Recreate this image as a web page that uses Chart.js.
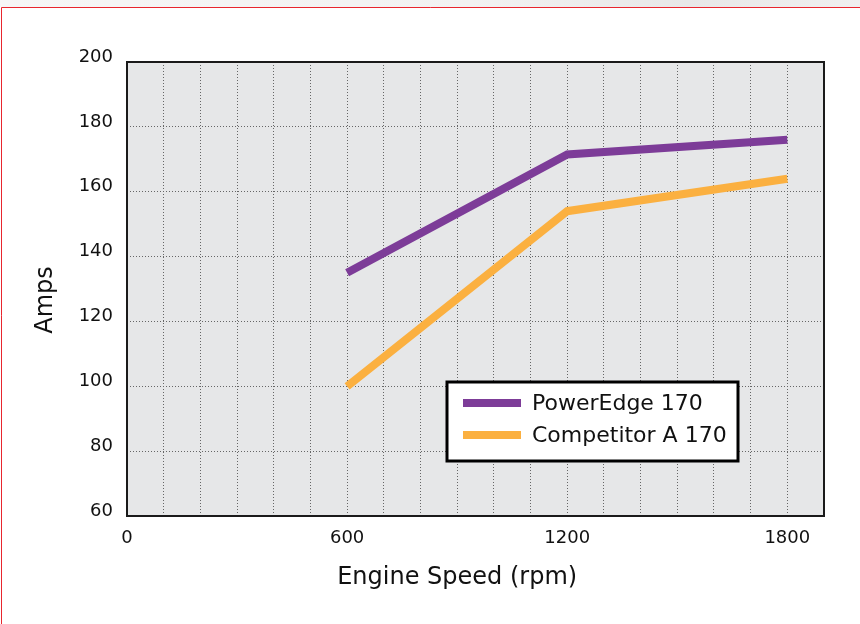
<!DOCTYPE html>
<html>
<head>
<meta charset="utf-8">
<script src="https://cdn.jsdelivr.net/npm/chart.js@4"></script>
<style>
  html, body { margin: 0; padding: 0; }
  body { width: 860px; height: 624px; overflow: hidden; position: relative;
         background: linear-gradient(to right, #f6f6f6 0%, #f2f2f2 55%, #e8e8e8 80%, #f0f0f0 100%); }
  #frame { position: absolute; left: 0; top: 7px; right: 0; bottom: 0; background: #ffffff; }
  #wrap { position: absolute; left: 0; top: 0; width: 860px; height: 624px; }
</style>
</head>
<body>
<div id="frame"></div>
<div id="wrap"><canvas id="c" width="860" height="624"></canvas></div>
<script>
const engineSpeed = [600, 1200, 1800];
const powerEdge170 = [135, 171.5, 176];
const competitorA170 = [100, 154, 164];
const seriesNames = ['PowerEdge 170', 'Competitor A 170'];
const seriesColors = ['#7d3c98', '#fbb040'];
const xLabelValues = [0, 600, 1200, 1800];
const yTicks = [60, 80, 100, 120, 140, 160, 180, 200];
const xTitle = 'Engine Speed (rpm)';
const yTitle = 'Amps';

const FONT = '"DejaVu Sans", sans-serif';
const TEXT = '#111111';

const decor = {
  id: 'decor',
  beforeDraw(chart) {
    const { ctx, chartArea: a } = chart;
    ctx.save();
    // page frame (red edge)
    ctx.strokeStyle = '#e8262e';
    ctx.lineWidth = 1;
    ctx.beginPath();
    ctx.moveTo(1.5, 624);
    ctx.lineTo(1.5, 7.5);
    ctx.lineTo(860, 7.5);
    ctx.stroke();
    ctx.fillStyle = '#e6e7e8';
    ctx.fillRect(a.left, a.top, a.right - a.left, a.bottom - a.top);
    ctx.restore();
  },
  afterDraw(chart) {
    const { ctx, chartArea: a, scales } = chart;
    ctx.save();
    ctx.strokeStyle = '#1a1a1a';
    ctx.lineWidth = 2;
    ctx.strokeRect(a.left, a.top, a.right - a.left, a.bottom - a.top);
    ctx.fillStyle = TEXT;
    ctx.font = '24px ' + FONT;
    ctx.textAlign = 'center';
    ctx.textBaseline = 'middle';
    ctx.fillText(xTitle, scales.x.getPixelForValue(900), 578);
    ctx.save();
    ctx.translate(46, 300);
    ctx.rotate(-Math.PI / 2);
    ctx.fillText(yTitle, 0, 0);
    ctx.restore();
    const bx = 447, by = 382, bw = 291, bh = 79;
    ctx.fillStyle = '#ffffff';
    ctx.fillRect(bx, by, bw, bh);
    ctx.strokeStyle = '#000000';
    ctx.lineWidth = 3;
    ctx.strokeRect(bx, by, bw, bh);
    const rows = [403, 435];
    chart.data.datasets.forEach((ds, i) => {
      ctx.fillStyle = ds.borderColor;
      ctx.fillRect(463, rows[i] - 4, 58, 8);
      ctx.fillStyle = TEXT;
      ctx.font = '22px ' + FONT;
      ctx.textAlign = 'left';
      ctx.textBaseline = 'middle';
      ctx.fillText(ds.label, 532, rows[i] + 1);
    });
    ctx.restore();
  }
};

new Chart(document.getElementById('c'), {
  type: 'line',
  plugins: [decor],
  data: {
    labels: engineSpeed,
    datasets: [
      { label: seriesNames[0], data: engineSpeed.map((x, i) => ({ x, y: powerEdge170[i] })),
        borderColor: seriesColors[0], backgroundColor: seriesColors[0] },
      { label: seriesNames[1], data: engineSpeed.map((x, i) => ({ x, y: competitorA170[i] })),
        borderColor: seriesColors[1], backgroundColor: seriesColors[1] }
    ]
  },
  options: {
    responsive: false,
    animation: false,
    devicePixelRatio: 1,
    layout: { padding: { top: 62, right: 36, left: 0, bottom: 0 } },
    elements: {
      line: { borderWidth: 8, tension: 0, borderCapStyle: 'butt', borderJoinStyle: 'miter', fill: false },
      point: { radius: 0, hoverRadius: 0 }
    },
    plugins: { legend: { display: false }, tooltip: { enabled: false } },
    scales: {
      x: {
        type: 'linear', min: 0, max: 1900,
        afterFit(s) { s.height = 108; },
        afterBuildTicks(s) { s.ticks = []; for (let v = 0; v <= 1900; v += 100) s.ticks.push({ value: v }); },
        ticks: {
          autoSkip: false, maxRotation: 0, padding: 12, color: TEXT,
          font: { family: FONT, size: 18 },
          callback: v => xLabelValues.includes(v) ? String(v) : ''
        },
        grid: { color: '#666666', lineWidth: 1, drawTicks: false },
        border: { display: false, dash: [1, 2] }
      },
      y: {
        type: 'linear', min: 60, max: 200,
        afterFit(s) { s.width = 127; },
        afterBuildTicks(s) { s.ticks = yTicks.map(v => ({ value: v })); },
        ticks: { padding: 14, color: TEXT, labelOffset: -5,
                 font: { family: FONT, size: 18 } },
        grid: { color: '#666666', lineWidth: 1, drawTicks: false },
        border: { display: false, dash: [1, 2] }
      }
    }
  }
});
</script>
</body>
</html>
